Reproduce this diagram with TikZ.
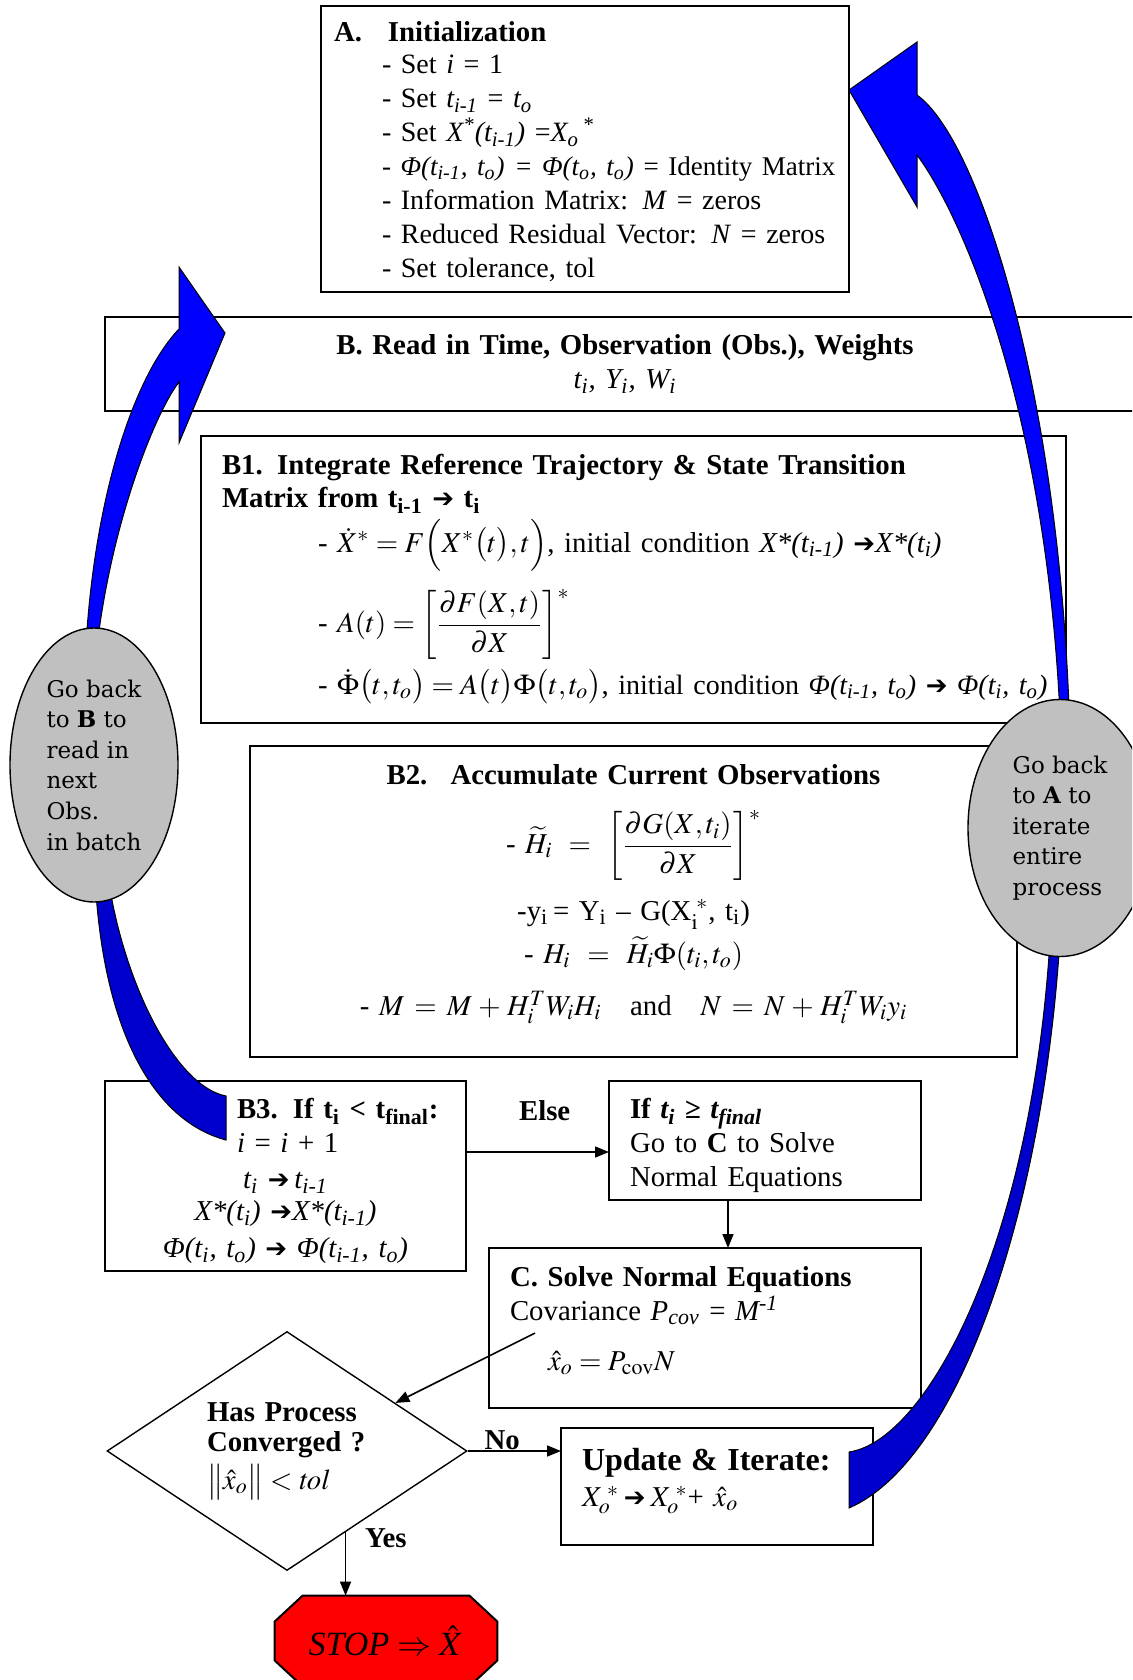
\documentclass[tikz,border=0pt]{standalone}
\usepackage{amsmath}
\usepackage{mathptmx}
\usepackage[no-math]{fontspec}
\setmainfont{Liberation Serif}
\newfontfamily\ovalfont{DejaVu Serif}
\newfontfamily\dingfont{DejaVu Sans}
\usetikzlibrary{arrows.meta,shapes.geometric,positioning,calc,backgrounds}

\definecolor{arrowblue}{RGB}{0,0,255}
\definecolor{arrowdark}{RGB}{0,0,204}
\definecolor{ovalgray}{RGB}{192,192,192}
\definecolor{stopred}{RGB}{255,0,0}

\newcommand{\tsub}[1]{\textsubscript{#1}}
\newcommand{\tsup}[1]{\textsuperscript{#1}}
\newcommand{\thru}{{\dingfont\fontsize{13}{13}\selectfont ➔}}
\newcommand{\snug}{\fontsize{14}{17}\selectfont}

\tikzset{
  stepbox/.style={draw, line width=1pt, outer sep=0pt, anchor=north west,
    inner xsep=10.5pt, inner ysep=0pt, align=left},
  oval/.style={ellipse, draw, line width=.7pt, fill=ovalgray, inner sep=0pt, align=left,
    font=\ovalfont\fontsize{11.5}{15.3}\selectfont},
  bentarrow/.style={draw=black, line width=.5pt, fill=arrowblue},
  bentback/.style={bentarrow, fill=arrowdark},
  flow/.style={->, line width=.8pt},
}

\begin{document}
\begin{tikzpicture}[x=.5pt,y=-.5pt,>={Triangle[length=7pt,width=5.5pt]},
  font=\fontsize{14.4}{17}\selectfont]
\useasboundingbox (0,0) rectangle (1132,1680);
\clip (0,0) rectangle (1132,1680);

% boxes of the batch loop
\node[stepbox, inner xsep=6.5pt, minimum width=264pt, minimum height=143pt, text width=251pt] (init) at (321,6) {%
  \rule{0pt}{13pt}\mbox{\textbf{\makebox[27pt][l]{A.}Initialization}}\\[-1pt]
  \hspace*{24pt}\mbox{\snug- Set \textit{i} = 1}\\
  \hspace*{24pt}\mbox{\snug- Set \textit{t\tsub{i-1}} = \textit{t\tsub{o}}}\\
  \hspace*{24pt}\mbox{\snug- Set \textit{X\tsup{*}(t\tsub{i-1})} =\textit{X\tsub{o}\tsup{\,*}}}\\
  \hspace*{24pt}\mbox{\fontsize{13.5}{17}\selectfont- \textit{Φ(t\tsub{i-1}, t\tsub{o}) = Φ(t\tsub{o}, t\tsub{o})} = Identity Matrix}\\
  \hspace*{24pt}\mbox{\snug- Information Matrix: \textit{M} = zeros}\\
  \hspace*{24pt}\mbox{\snug- Reduced Residual Vector: \textit{N} = zeros}\\
  \hspace*{24pt}\mbox{\snug- Set tolerance, tol}};

\node[stepbox, align=center, minimum width=520pt, minimum height=47pt, text width=499pt] (readin) at (105,317) {%
  \textbf{B. Read in Time, Observation (Obs.), Weights}\\
  \textit{t\tsub{i}, Y\tsub{i}, W\tsub{i}}};

\node[stepbox, minimum width=432.5pt, minimum height=143.5pt, text width=411.5pt] (integ) at (201,436) {%
  \textbf{B1. Integrate Reference Trajectory \& State Transition}\\[-.5pt]
  \textbf{Matrix from t\tsub{i-1} \thru\ t\tsub{i}}\\[2pt]
  \hspace*{48pt}\mbox{- $\dot{X}^{*} = F\Bigl(X^{*}\bigl(t\bigr),t\Bigr)$, initial condition \textit{X*(t\tsub{i-1})} \thru\textit{X*(t\tsub{i})}}\\[8pt]
  \hspace*{48pt}- $A(t) = \left[\dfrac{\partial F(X,t)}{\partial X}\right]^{*}$\\[4pt]
  \hspace*{48pt}\mbox{- $\dot{\Phi}\bigl(t,t_{o}\bigr) = A\bigl(t\bigr)\Phi\bigl(t,t_{o}\bigr)$, {\snug initial condition \textit{Φ(t\tsub{i-1}, t\tsub{o})} \thru\ \textit{Φ(t\tsub{i}, t\tsub{o})}}}};

\node[stepbox, align=center, minimum width=383.5pt, minimum height=155.5pt, text width=362.5pt] (accum) at (250,746) {%
  \textbf{\makebox[32pt][l]{B2.}Accumulate Current Observations}\\[11.5pt]
  - $\widetilde{H}_{i} = \left[\dfrac{\partial G(X,t_{i})}{\partial X}\right]^{*}$\\[8.5pt]
  -y\tsub{i}\,= Y\tsub{i} – G(X$_{\mathrm{i}}^{\;*}$, t\tsub{i})\\[2.5pt]
  - $H_{i} = \widetilde{H}_{i}\Phi(t_{i},t_{o})$\\[9pt]
  - $M = M + H_{i}^{T}W_{i}H_{i}$\quad and\quad $N = N + H_{i}^{T}W_{i}y_{i}$\rule[-11.5pt]{0pt}{0pt}};

\node[stepbox, align=center, minimum width=180.5pt, minimum height=95pt, text width=159.5pt] (bthree) at (105,1081) {%
  \makebox[159.5pt][l]{\rule{0pt}{15.5pt}\hspace*{55.5pt}\textbf{\makebox[28pt][l]{B3.}If t\tsub{i} < t\tsub{final}:}}\\
  \makebox[159.5pt][l]{\hspace*{55.5pt}\textit{i} = \textit{i} + 1}\\[1pt]
  \textit{t\tsub{i}} \thru\,\textit{t\tsub{i-1}}\\[-1pt]
  \textit{X*(t\tsub{i})} \thru\textit{X*(t\tsub{i-1})}\\[1.5pt]
  \textit{Φ(t\tsub{i}, t\tsub{o})} \thru\ \textit{Φ(t\tsub{i-1}, t\tsub{o})}};

\node[stepbox, minimum width=156pt, minimum height=59.5pt, text width=135pt] (ifdone) at (609,1081) {%
  \rule{0pt}{15.5pt}\textbf{If \textit{t\tsub{i}} ≥ \textit{t\tsub{final}}}\\
  Go to \textbf{C} to Solve\\
  Normal Equations};

\node[stepbox, minimum width=216pt, minimum height=80pt, text width=195pt] (solve) at (489,1248) {%
  \textbf{C. Solve Normal Equations}\\
  Covariance \textit{P\tsub{cov}} = \textit{M\tsup{-1}}\\[8pt]
  \hspace*{19pt}$\hat{x}_{o} = P_{\mathrm{cov}}N$\rule[-9.5pt]{0pt}{0pt}};

\node[diamond, draw, line width=.7pt, minimum width=180pt, minimum height=119.5pt, shape aspect=1.5,
  inner sep=0pt, text width=80pt, align=left] (conv) at (287,1451) {%
  \textbf{Has Process}\\[-2pt]
  \textbf{Converged ?}\\[2pt]
  $\bigl\|\hat{x}_{o}\bigr\| < \mathit{tol}$};

\node[stepbox, minimum width=156pt, minimum height=58.5pt, text width=135pt] (update) at (561,1428) {%
  {\fontsize{16}{18}\selectfont\textbf{Update \& Iterate:}}\\[1pt]
  $X_{o}^{\;*}$\,\thru\,$X_{o}^{\;*}$+\ $\hat{x}_{o}$\rule[-9pt]{0pt}{0pt}};

\node[minimum width=111pt, minimum height=45pt, inner sep=0pt] (stop) at (386,1641) {%
  {\fontsize{17}{17}\selectfont\textit{STOP} $\Rightarrow \hat{X}$}};
\begin{scope}[on background layer]
  \draw[line width=1pt, fill=stopred] ([xshift=14pt]stop.north west) -- ([xshift=-14pt]stop.north east)
    -- ([yshift=-13pt]stop.north east) -- ([yshift=13pt]stop.south east) -- ([xshift=-14pt]stop.south east)
    -- ([xshift=14pt]stop.south west) -- ([yshift=13pt]stop.south west) -- ([yshift=-13pt]stop.north west) -- cycle;
\end{scope}

% connectors
\draw[flow] ([yshift=12pt]bthree.east) coordinate (elsefrom) -- (elsefrom -| ifdone.west)
  node[pos=.55, above=12pt] (elsetag) {\textbf{Else}};
\draw[flow] ([xshift=-18.5pt]ifdone.south) -- ([xshift=-18.5pt]ifdone.south |- solve.north);
\coordinate (solvefrom) at ([xshift=23pt,yshift=-42.5pt]solve.north west);
\draw[flow] (solvefrom) -- ($(conv.north)!.6!(conv.east)$);
\draw[flow] (conv.east) -- (conv.east -| update.west)
  node[pos=.37, above, inner sep=0pt] (notag) {\textbf{No}};
\draw[flow] ($(conv.east)!.676!(conv.south)$) coordinate (yesfrom) -- (yesfrom |- stop.north)
  node[pos=.1, right=6pt] (yestag) {\textbf{Yes}};

% curved return arrows
\filldraw[bentarrow] (84,700) .. controls (86,520) and (130,380) .. (179,329) -- (179,267) -- (225,333)
  -- (179,443) -- (179,382) .. controls (150,420) and (98,560) .. (93,700) -- cycle;
\filldraw[bentback] (94,840) .. controls (95,1020) and (150,1120) .. (226,1140) -- (226,1096)
  .. controls (170,1085) and (112,960) .. (104,840) -- cycle;
\filldraw[bentarrow] (1070,740) .. controls (1062,400) and (980,140) .. (917,95) -- (917,42) -- (849,90)
  -- (917,207) -- (917,155) .. controls (965,220) and (1050,420) .. (1061,740) -- cycle;
\filldraw[bentback] (1062,900) .. controls (1050,1200) and (960,1460) .. (849,1508) -- (849,1452)
  .. controls (930,1440) and (1040,1230) .. (1052,900) -- cycle;

% loop-back notes
\node[oval, minimum width=84pt, minimum height=137pt] (backB) at (94,765)
  {Go back\\to \textbf{B} to\\read in\\next\\Obs.\\in batch};
\node[oval, minimum width=92pt, minimum height=128.5pt] (backA) at (1060,828)
  {Go back\\to \textbf{A} to\\iterate\\entire\\process};
\end{tikzpicture}
\end{document}
